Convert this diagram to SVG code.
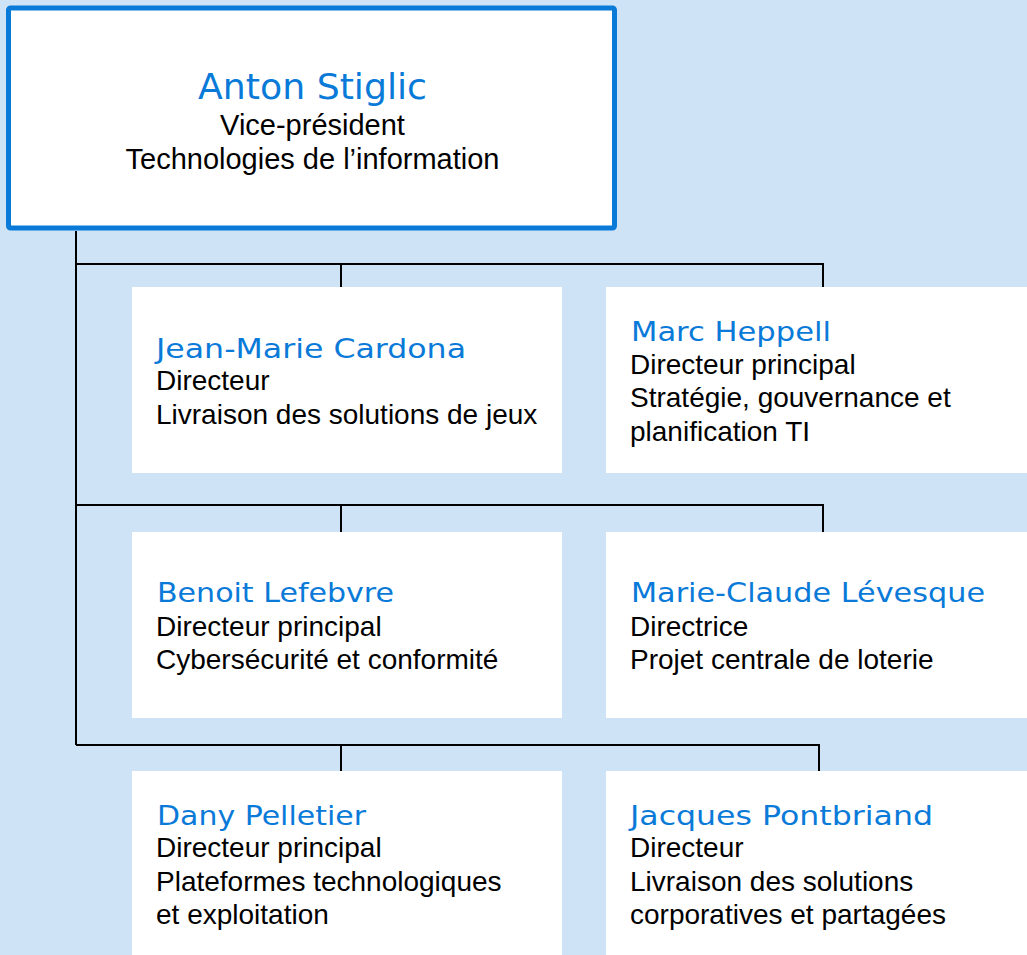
<svg xmlns="http://www.w3.org/2000/svg" width="1027" height="955" viewBox="0 0 1027 955">
<style>
.box{fill:#ffffff}
.name{font-family:"DejaVu Sans","Noto Sans",sans-serif;font-size:27px;fill:#0a7ad9}
.t{font-family:"Liberation Sans",Arial,sans-serif;font-size:28px;fill:#000}
.c{fill:none;stroke:#000;stroke-width:2}
</style>
<rect x="0" y="0" width="1027" height="955" fill="#cfe3f6"/>
<g id="connectors">
<path class="c" d="M76 231 V745"/>
<path class="c" d="M76 264 H823 V287 M341 264 V287"/>
<path class="c" d="M76 505 H823 V532 M341 505 V532"/>
<path class="c" d="M76 745 H819 V771 M341 745 V771"/>
</g>
<g id="anton">
<rect x="8.5" y="8" width="606" height="220" rx="2" fill="#fff" stroke="#0a7ad9" stroke-width="5"/>
<text class="name" x="312.5" y="99" text-anchor="middle" style="font-size:36px" textLength="229" lengthAdjust="spacingAndGlyphs">Anton Stiglic</text>
<text class="t" x="312.5" y="135" text-anchor="middle" style="font-size:29px">Vice-président</text>
<text class="t" x="312.5" y="169" text-anchor="middle" style="font-size:29px">Technologies de l’information</text>
</g>
<g id="jean-marie">
<rect class="box" x="132" y="287" width="430" height="186"/>
<text class="name" x="156" y="358" textLength="310" lengthAdjust="spacingAndGlyphs">Jean-Marie Cardona</text>
<text class="t" x="156" y="390">Directeur</text>
<text class="t" x="156" y="424">Livraison des solutions de jeux</text>
</g>
<g id="marc">
<rect class="box" x="606" y="287" width="421" height="186"/>
<text class="name" x="631" y="341" textLength="200" lengthAdjust="spacingAndGlyphs">Marc Heppell</text>
<text class="t" x="630" y="374">Directeur principal</text>
<text class="t" x="630" y="407">Stratégie, gouvernance et</text>
<text class="t" x="630" y="441">planification TI</text>
</g>
<g id="benoit">
<rect class="box" x="132" y="532" width="430" height="186"/>
<text class="name" x="157" y="602" textLength="237" lengthAdjust="spacingAndGlyphs">Benoit Lefebvre</text>
<text class="t" x="156" y="636">Directeur principal</text>
<text class="t" x="156" y="669">Cybersécurité et conformité</text>
</g>
<g id="marie-claude">
<rect class="box" x="606" y="532" width="421" height="186"/>
<text class="name" x="631" y="602" textLength="354" lengthAdjust="spacingAndGlyphs">Marie-Claude Lévesque</text>
<text class="t" x="630" y="636">Directrice</text>
<text class="t" x="630" y="669">Projet centrale de loterie</text>
</g>
<g id="dany">
<rect class="box" x="132" y="771" width="430" height="184"/>
<text class="name" x="157" y="825" textLength="209" lengthAdjust="spacingAndGlyphs">Dany Pelletier</text>
<text class="t" x="156" y="857">Directeur principal</text>
<text class="t" x="156" y="891">Plateformes technologiques</text>
<text class="t" x="156" y="924">et exploitation</text>
</g>
<g id="jacques">
<rect class="box" x="606" y="771" width="421" height="184"/>
<text class="name" x="630" y="825" textLength="303" lengthAdjust="spacingAndGlyphs">Jacques Pontbriand</text>
<text class="t" x="630" y="857">Directeur</text>
<text class="t" x="630" y="891">Livraison des solutions</text>
<text class="t" x="630" y="924">corporatives et partagées</text>
</g>
</svg>
